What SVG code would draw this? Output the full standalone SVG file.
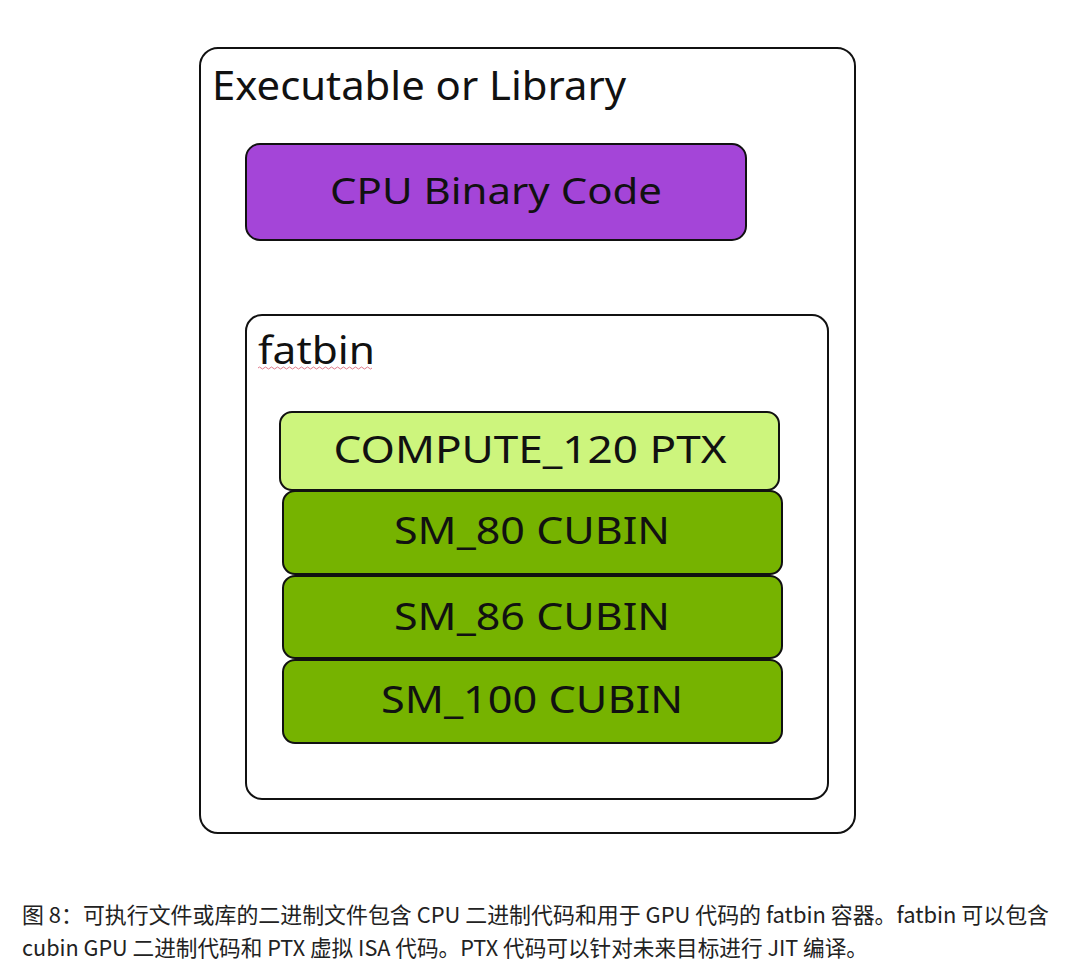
<svg xmlns="http://www.w3.org/2000/svg" width="1080" height="979" viewBox="0 0 1080 979">
<style>
.box{stroke:#111;stroke-width:2}
.lbl{font-family:"Noto Sans","Open Sans",sans-serif;fill:#111}
.c{text-anchor:middle}
.cap{font-family:"Noto Sans CJK SC","Noto Sans",sans-serif;font-size:22px;fill:#222}
</style>
<rect width="1080" height="979" fill="#fff"/>
<g id="executable">
<rect class="box" x="200" y="48" width="655" height="785" rx="18" fill="#fff"/>
<text class="lbl" x="212" y="100" font-size="40" textLength="414" lengthAdjust="spacingAndGlyphs">Executable or Library</text>
</g>
<g id="cpu">
<rect class="box" x="246" y="144" width="500" height="96" rx="14" fill="#a445d8"/>
<text class="lbl c" x="496" y="204" font-size="36" textLength="332" lengthAdjust="spacingAndGlyphs">CPU Binary Code</text>
</g>
<g id="fatbin">
<rect class="box" x="246" y="315" width="582" height="484" rx="16" fill="#fff"/>
<text class="lbl" x="258" y="364" font-size="38" textLength="117" lengthAdjust="spacingAndGlyphs">fatbin</text>
<path d="M258 368 q1.5 -2 3 0 t3 0 t3 0 t3 0 t3 0 t3 0 t3 0 t3 0 t3 0 t3 0 t3 0 t3 0 t3 0 t3 0 t3 0 t3 0 t3 0 t3 0 t3 0 t3 0 t3 0 t3 0 t3 0 t3 0 t3 0 t3 0 t3 0 t3 0 t3 0 t3 0 t3 0 t3 0 t3 0 t3 0 t3 0 t3 0 t3 0 t3 0" fill="none" stroke="#e07a8a" stroke-width="1"/>
</g>
<g id="compute120">
<rect class="box" x="280" y="412" width="499" height="78" rx="12" fill="#cdf57d"/>
<text class="lbl c" x="530" y="463" font-size="38" textLength="393" lengthAdjust="spacingAndGlyphs">COMPUTE_120 PTX</text>
</g>
<g id="sm80">
<rect class="box" x="283" y="491" width="499" height="83" rx="12" fill="#76b300"/>
<text class="lbl c" x="532" y="544" font-size="38" textLength="276" lengthAdjust="spacingAndGlyphs">SM_80 CUBIN</text>
</g>
<g id="sm86">
<rect class="box" x="283" y="576" width="499" height="82" rx="12" fill="#76b300"/>
<text class="lbl c" x="532" y="630" font-size="38" textLength="276" lengthAdjust="spacingAndGlyphs">SM_86 CUBIN</text>
</g>
<g id="sm100">
<rect class="box" x="283" y="660" width="499" height="83" rx="12" fill="#76b300"/>
<text class="lbl c" x="532" y="713" font-size="38" textLength="302" lengthAdjust="spacingAndGlyphs">SM_100 CUBIN</text>
</g>
<g id="connectors"></g>
<g id="caption">
<text class="cap" x="22" y="923" textLength="1027" lengthAdjust="spacingAndGlyphs">图 8：可执行文件或库的二进制文件包含 CPU 二进制代码和用于 GPU 代码的 fatbin 容器。fatbin 可以包含</text>
<text class="cap" x="22" y="956" textLength="846" lengthAdjust="spacingAndGlyphs">cubin GPU 二进制代码和 PTX 虚拟 ISA 代码。PTX 代码可以针对未来目标进行 JIT 编译。</text>
</g>
</svg>
